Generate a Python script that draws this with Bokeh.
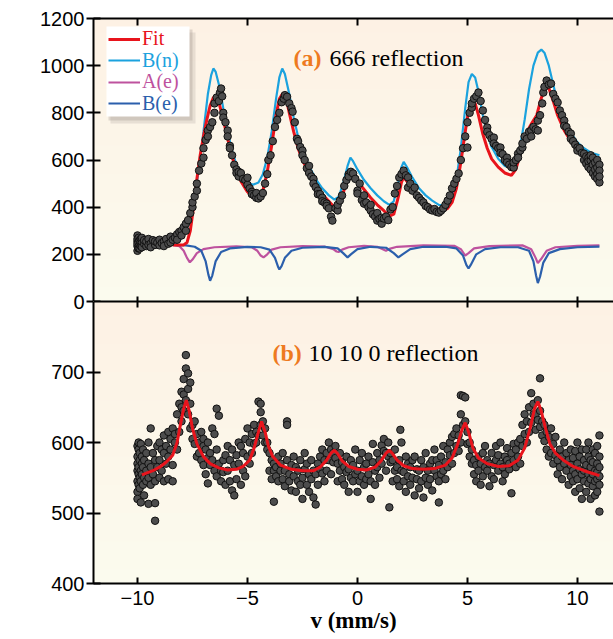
import numpy as np
from bokeh.plotting import figure
from bokeh.layouts import column
from bokeh.models import (Range1d, LinearAxis, FixedTicker, BoxAnnotation, Label,
                          Legend, LegendItem)
from bokeh.embed import file_html
from bokeh.resources import INLINE

# ---------------- data ----------------
X_TICKS = [-10, -5, 0, 5, 10]
X_TICK_LABELS = ["\u221210", "\u22125", "0", "5", "10"]
YA_TICKS = [0, 200, 400, 600, 800, 1000, 1200]
YB_TICKS = [400, 500, 600, 700]
SERIES = ["Fit", "B(n)", "A(e)", "B(e)"]

# panel (a): measured counts, rows of (velocity, [counts ...])
A_ROWS = [
    (-10.0, [280, 255, 235, 215, 265, 245]), (-9.95, [270, 225, 250]), (-9.9, [240, 260, 225]),
    (-9.85, [265, 235]), (-9.8, [250, 230, 270]), (-9.7, [245, 260]), (-9.6, [235, 255]),
    (-9.5, [265, 240]), (-9.4, [245, 230]), (-9.3, [260]), (-9.2, [240, 255]), (-9.1, [250]),
    (-9.0, [238, 262]), (-8.9, [248]), (-8.8, [255, 235]), (-8.7, [265]), (-8.6, [245]),
    (-8.5, [275, 250]), (-8.4, [262]), (-8.3, [270]), (-8.2, [285, 262]), (-8.1, [295]),
    (-8.0, [300, 280]), (-7.9, [315]), (-7.8, [330, 300]), (-7.7, [345]), (-7.6, [375]),
    (-7.5, [400, 420]), (-7.4, [445]), (-7.3, [470, 500]), (-7.2, [555]), (-7.1, [585]),
    (-7.0, [610, 650]), (-6.9, [685]), (-6.8, [725, 700]), (-6.7, [740]), (-6.6, [760]),
    (-6.5, [800, 840]), (-6.4, [865]), (-6.3, [850]), (-6.25, [885]), (-6.2, [903]),
    (-6.15, [870]), (-6.1, [800, 780]), (-6.0, [760]), (-5.9, [725, 700]), (-5.8, [660, 650]),
    (-5.7, [620]), (-5.6, [580]), (-5.5, [560, 545]), (-5.4, [530, 550]), (-5.3, [545]),
    (-5.2, [520]), (-5.1, [515]), (-5.0, [495, 525]), (-4.9, [480]), (-4.8, [465, 455]),
    (-4.7, [450]), (-4.6, [440, 460]), (-4.5, [437]), (-4.4, [445]), (-4.3, [460]),
    (-4.2, [500]), (-4.1, [540]), (-4.05, [600]), (-3.95, [620]), (-3.85, [680]),
    (-3.75, [740]), (-3.65, [770]), (-3.55, [800]), (-3.45, [845]), (-3.35, [860]),
    (-3.3, [875]), (-3.2, [868]), (-3.1, [840]), (-3.0, [820]), (-2.95, [805]),
    (-2.85, [760]), (-2.75, [690]), (-2.7, [680]), (-2.6, [655]), (-2.5, [640, 620]),
    (-2.4, [600]), (-2.3, [565]), (-2.2, [575, 545]), (-2.1, [530]), (-2.0, [520, 500]),
    (-1.9, [485]), (-1.8, [470, 455]), (-1.7, [455]), (-1.6, [440, 425]), (-1.5, [420]),
    (-1.4, [415, 405]), (-1.3, [395]), (-1.2, [360]), (-1.14, [343]), (-1.0, [395]),
    (-0.9, [386, 410]), (-0.8, [428]), (-0.7, [450]), (-0.6, [490]), (-0.5, [515]),
    (-0.4, [540, 530]), (-0.3, [550]), (-0.2, [543]), (-0.1, [520]), (0.0, [470, 458]),
    (0.1, [500]), (0.2, [430]), (0.3, [415, 450]), (0.4, [420]), (0.5, [400]),
    (0.6, [386, 410]), (0.7, [370]), (0.8, [360]), (0.9, [343, 375]), (1.0, [350]),
    (1.1, [330, 355]), (1.2, [352]), (1.3, [360]), (1.4, [345]), (1.5, [390]), (1.6, [400]),
    (1.7, [458]), (1.8, [490]), (1.9, [526]), (2.0, [540]), (2.1, [555]), (2.2, [535]),
    (2.3, [483, 526]), (2.4, [500]), (2.5, [470]), (2.6, [483]), (2.7, [450]), (2.8, [440]),
    (2.9, [428]), (3.0, [420]), (3.1, [405]), (3.2, [400]), (3.3, [390]), (3.4, [386]),
    (3.5, [392]), (3.6, [380]), (3.7, [377]), (3.8, [385]), (3.9, [395]), (4.0, [410]),
    (4.1, [428]), (4.2, [450]), (4.3, [480]), (4.4, [500]), (4.5, [520]), (4.6, [543]),
    (4.7, [600]), (4.8, [650]), (4.9, [700]), (5.0, [653, 760]), (5.1, [800]),
    (5.2, [822, 840]), (5.3, [860]), (5.4, [870]), (5.5, [886]), (5.6, [850]), (5.7, [810]),
    (5.8, [770]), (5.9, [738, 720]), (6.0, [705]), (6.1, [690]), (6.2, [695, 670]),
    (6.3, [660]), (6.4, [650]), (6.5, [653, 630]), (6.6, [625]), (6.7, [600]),
    (6.8, [610, 590]), (6.9, [580]), (7.0, [570]), (7.1, [568, 590]), (7.2, [600]),
    (7.3, [627, 610]), (7.4, [640]), (7.5, [653, 670]), (7.6, [700]), (7.7, [690]),
    (7.8, [720]), (7.9, [725, 700]), (8.0, [740]), (8.1, [730]), (8.2, [725, 767]),
    (8.3, [790]), (8.4, [840]), (8.45, [886]), (8.5, [910]), (8.6, [937]), (8.7, [920]),
    (8.8, [924]), (8.9, [880]), (9.0, [860]), (9.1, [844]), (9.2, [810]), (9.3, [790]),
    (9.4, [767, 745]), (9.5, [740]), (9.6, [720]), (9.7, [712, 690]), (9.8, [680]),
    (9.9, [665]), (10.0, [653, 640]), (10.1, [650]), (10.2, [630]), (10.3, [627, 600]),
    (10.4, [615, 585]), (10.5, [610, 570, 595]), (10.6, [598, 560, 620]),
    (10.7, [580, 610, 545]), (10.8, [590, 560, 530]), (10.9, [568, 600, 540, 520]),
    (11.0, [505, 580, 555, 530]),
]

# panel (a) curves: (velocity, counts)
FIT_A = [(-8.4, 240), (-7.9, 240), (-7.75, 250), (-7.6, 300), (-7.45, 400),
         (-7.3, 520), (-7.15, 620), (-7.0, 700), (-6.85, 770), (-6.7, 830), (-6.55, 865), (-6.45, 870),
         (-6.3, 845), (-6.1, 770), (-5.9, 690), (-5.7, 615), (-5.5, 555), (-5.3, 510), (-5.0, 465),
         (-4.8, 445), (-4.6, 435), (-4.45, 440), (-4.3, 470), (-4.1, 550), (-3.9, 660), (-3.7, 790),
         (-3.55, 860), (-3.4, 882), (-3.25, 865), (-3.1, 800), (-2.9, 720), (-2.7, 650), (-2.5, 600),
         (-2.2, 545), (-1.9, 495), (-1.6, 455), (-1.3, 425), (-1.05, 400), (-0.85, 410), (-0.65, 460),
         (-0.45, 520), (-0.32, 545), (-0.2, 535), (0.0, 510), (0.3, 475), (0.6, 440), (0.9, 410),
         (1.2, 385), (1.45, 362), (1.65, 370), (1.85, 440), (2.0, 505), (2.1, 528), (2.25, 510),
         (2.5, 475), (2.8, 440), (3.1, 415), (3.4, 400), (3.7, 388), (3.9, 386), (4.1, 395),
         (4.3, 420), (4.5, 480), (4.7, 590), (4.9, 720), (5.05, 810), (5.2, 848), (5.35, 840),
         (5.5, 790), (5.7, 710), (5.9, 650), (6.1, 605), (6.4, 570), (6.7, 545), (7.0, 535),
         (7.2, 560), (7.45, 640), (7.7, 720), (7.95, 760), (8.15, 790), (8.35, 860), (8.55, 915),
         (8.7, 905), (8.9, 850), (9.1, 790), (9.4, 725), (9.7, 680), (10.0, 650), (10.3, 630),
         (10.6, 615), (11.0, 600)]
BN_A = [(-8.4, 242), (-8.1, 255), (-7.8, 300), (-7.6, 350), (-7.4, 440),
        (-7.2, 570), (-7.0, 720), (-6.8, 880), (-6.65, 960), (-6.55, 988), (-6.45, 975), (-6.3, 920),
        (-6.1, 820), (-5.9, 720), (-5.7, 640), (-5.5, 580), (-5.3, 540), (-5.0, 505), (-4.75, 495),
        (-4.5, 505), (-4.3, 540), (-4.1, 610), (-3.9, 720), (-3.7, 860), (-3.55, 950), (-3.42, 988),
        (-3.3, 965), (-3.1, 880), (-2.9, 780), (-2.7, 700), (-2.5, 640), (-2.2, 575), (-1.9, 520),
        (-1.6, 480), (-1.3, 450), (-1.05, 432), (-0.85, 445), (-0.65, 500), (-0.45, 575),
        (-0.32, 610), (-0.2, 595), (0.0, 560), (0.3, 515), (0.6, 480), (0.9, 450), (1.2, 425),
        (1.45, 410), (1.65, 425), (1.85, 500), (2.0, 570), (2.1, 592), (2.25, 570), (2.5, 525),
        (2.8, 480), (3.1, 450), (3.4, 428), (3.7, 410), (3.9, 408), (4.1, 420), (4.3, 450),
        (4.5, 520), (4.7, 650), (4.9, 820), (5.05, 930), (5.2, 965), (5.35, 950), (5.5, 890),
        (5.7, 790), (5.9, 710), (6.1, 655), (6.4, 605), (6.7, 575), (6.95, 567), (7.2, 590),
        (7.4, 660), (7.6, 770), (7.8, 900), (8.0, 1000), (8.2, 1055), (8.36, 1068), (8.5, 1055),
        (8.7, 1000), (8.9, 920), (9.1, 845), (9.4, 770), (9.7, 715), (10.0, 675), (10.3, 650),
        (10.6, 632), (11.0, 620)]
AE_A = [(-8.4, 240), (-8.1, 235), (-7.9, 215), (-7.75, 185), (-7.62, 166), (-7.5, 178),
        (-7.3, 205), (-7.0, 222), (-6.5, 230), (-5.5, 234), (-4.8, 230), (-4.55, 215), (-4.4, 195),
        (-4.27, 187), (-4.1, 200), (-3.9, 220), (-3.5, 230), (-2.5, 235), (-1.5, 233), (-1.1, 222),
        (-0.95, 212), (-0.86, 210), (-0.7, 220), (-0.4, 230), (0.3, 236), (0.9, 232), (1.15, 222),
        (1.3, 215), (1.45, 223), (1.8, 232), (3.0, 238), (4.4, 236), (4.7, 222), (4.9, 195),
        (5.05, 205), (5.3, 225), (6.0, 235), (7.5, 238), (7.9, 222), (8.1, 185), (8.2, 163),
        (8.35, 180), (8.6, 215), (9.0, 230), (10.0, 236), (11.0, 238)]
BE_A = [(-8.4, 240), (-7.8, 238), (-7.4, 232), (-7.1, 215), (-6.9, 170), (-6.78, 115),
        (-6.7, 88), (-6.6, 110), (-6.45, 170), (-6.2, 210), (-5.8, 225), (-5.0, 232), (-4.4, 230),
        (-4.0, 220), (-3.75, 185), (-3.6, 145), (-3.55, 136), (-3.45, 150), (-3.3, 185), (-3.0, 215),
        (-2.5, 228), (-1.5, 232), (-0.9, 225), (-0.65, 205), (-0.45, 187), (-0.3, 200), (0.0, 222),
        (0.6, 232), (1.3, 228), (1.65, 205), (1.86, 187), (2.05, 200), (2.4, 222), (3.0, 232),
        (4.0, 232), (4.5, 225), (4.8, 195), (4.95, 155), (5.05, 140), (5.15, 155), (5.4, 200),
        (5.8, 222), (6.5, 230), (7.3, 230), (7.8, 215), (8.0, 170), (8.12, 110), (8.2, 78),
        (8.3, 105), (8.45, 165), (8.7, 205), (9.2, 222), (10.0, 230), (11.0, 233)]

# panel (b): measured counts, rows of (velocity, [counts ...])
B_ROWS = [
    (-10.0, [595, 580, 560, 545, 530, 570, 520]), (-9.95, [590, 565, 540, 555, 600]),
    (-9.9, [575, 550, 585, 535]), (-9.85, [560, 545, 598, 515]), (-9.8, [570, 555, 580]),
    (-9.75, [540, 565, 590]), (-9.7, [575, 550, 525]), (-9.6, [560, 585, 545]),
    (-9.5, [513, 570, 550, 600]), (-9.4, [620, 565, 540]), (-9.3, [555, 585]),
    (-9.2, [489, 545, 575, 514]), (-9.1, [565, 595]), (-9.0, [575, 550, 600]), (-8.9, [590, 560]),
    (-8.8, [610, 585, 545]), (-8.7, [595, 570]), (-8.6, [615, 580, 548]), (-8.5, [605, 590]),
    (-8.4, [620, 568, 545]), (-8.3, [600, 612]), (-8.2, [640, 590]), (-8.1, [655, 615]),
    (-8.0, [672, 630, 650]), (-7.9, [690, 668, 645]), (-7.8, [724, 705, 660]),
    (-7.7, [698, 676, 640]), (-7.6, [685, 655, 620]), (-7.5, [625, 605]), (-7.4, [630, 598]),
    (-7.3, [612, 580]), (-7.2, [600, 585]), (-7.1, [615, 575]), (-7.0, [605, 595, 568]),
    (-6.9, [590, 555]), (-6.8, [542, 600, 578]), (-6.7, [585, 568]), (-6.6, [620, 575]),
    (-6.5, [612, 560]), (-6.4, [648, 590, 552]), (-6.3, [638, 570]), (-6.2, [560, 545]),
    (-6.1, [575, 558]), (-6.0, [540, 582]), (-5.9, [560, 595]), (-5.8, [545, 575]),
    (-5.7, [590, 532]), (-5.6, [525, 568]), (-5.5, [582, 548]), (-5.4, [600, 570]),
    (-5.3, [595, 540]), (-5.2, [585, 560]), (-5.1, [605, 552]), (-5.0, [580, 620]),
    (-4.9, [600, 570]), (-4.8, [612, 585]), (-4.7, [625, 598]), (-4.6, [600, 615]),
    (-4.5, [610, 658]), (-4.4, [643, 655, 625]), (-4.3, [630, 610]), (-4.2, [620, 600]),
    (-4.1, [600, 590]), (-4.0, [560, 585]), (-3.9, [575, 548]), (-3.8, [516, 570, 560]),
    (-3.7, [565, 552]), (-3.6, [580, 545]), (-3.5, [560, 570]), (-3.4, [548, 585]),
    (-3.3, [560, 538]), (-3.2, [630, 625, 575]), (-3.1, [555, 545]), (-3.0, [568, 532]),
    (-2.9, [552, 580]), (-2.8, [530, 565]), (-2.7, [560, 545]), (-2.6, [575, 540]),
    (-2.5, [550, 520]), (-2.4, [562, 585]), (-2.3, [540, 570]), (-2.2, [530, 555]),
    (-2.1, [548, 575]), (-2.0, [560, 522]), (-1.9, [512, 555]), (-1.8, [570, 540]),
    (-1.7, [580, 562]), (-1.6, [556, 590]), (-1.5, [575, 545]), (-1.4, [585, 560]),
    (-1.3, [575, 600]), (-1.2, [590, 555]), (-1.1, [585, 572]), (-1.0, [578, 595]),
    (-0.9, [570, 545]), (-0.8, [560, 585]), (-0.7, [548, 572]), (-0.6, [565, 540]),
    (-0.5, [558, 580]), (-0.4, [530, 562]), (-0.3, [575, 550]), (-0.2, [545, 568]),
    (-0.1, [590, 555]), (0.0, [560, 530]), (0.1, [575, 545]), (0.2, [552, 585]),
    (0.3, [540, 565]), (0.4, [570, 548]), (0.5, [555, 580]), (0.6, [545, 520]),
    (0.7, [572, 598]), (0.8, [560, 540]), (0.9, [585, 565]), (1.0, [575, 550]),
    (1.1, [596, 570]), (1.2, [588, 605]), (1.3, [585, 560]), (1.4, [580, 600]), (1.45, [508]),
    (1.5, [585, 572]), (1.6, [575, 545]), (1.7, [560, 590]), (1.8, [548, 565]),
    (1.9, [575, 538]), (1.95, [618]), (2.0, [600, 560]), (2.1, [558, 545]), (2.2, [580, 530]),
    (2.3, [552, 570]), (2.4, [540, 565]), (2.5, [575, 550]), (2.6, [580, 525]),
    (2.7, [548, 562]), (2.8, [560, 535]), (2.9, [575, 545]), (3.0, [565, 522]),
    (3.1, [585, 550]), (3.2, [540, 560]), (3.3, [548, 570]), (3.4, [575, 532]),
    (3.5, [560, 590]), (3.6, [552, 575]), (3.7, [515, 568, 545]), (3.8, [580, 555]),
    (3.9, [595, 560]), (4.0, [572, 548]), (4.1, [590, 565]), (4.2, [582, 600]),
    (4.3, [608, 570]), (4.4, [612, 585]), (4.5, [595, 620]), (4.6, [610, 588]),
    (4.7, [667, 640, 600]), (4.8, [666, 625]), (4.9, [664, 630]), (5.0, [615, 598]),
    (5.1, [600, 580]), (5.2, [590, 570]), (5.3, [575, 555]), (5.4, [568, 545]),
    (5.5, [580, 560]), (5.6, [570, 540]), (5.7, [552, 585]), (5.8, [565, 595]),
    (5.9, [560, 575]), (6.0, [538, 570]), (6.1, [585, 552]), (6.2, [568, 548]),
    (6.3, [575, 595]), (6.4, [560, 582]), (6.5, [600, 570]), (6.6, [545, 565]),
    (6.7, [580, 555]), (6.8, [575, 592]), (6.9, [562, 570]), (7.0, [528, 585]),
    (7.1, [598, 575]), (7.2, [590, 565]), (7.3, [600, 580]), (7.4, [605, 570]),
    (7.5, [625, 595]), (7.6, [612, 640]), (7.7, [630, 600]), (7.8, [650, 615]),
    (7.9, [670, 628]), (8.0, [655, 640]), (8.1, [640, 618]), (8.2, [660, 632]),
    (8.3, [691, 645, 622]), (8.4, [630, 610]), (8.5, [625, 602]), (8.6, [615, 590]),
    (8.7, [608, 580]), (8.8, [585, 620]), (8.9, [598, 570]), (9.0, [582, 608]),
    (9.1, [575, 555]), (9.2, [590, 565]), (9.3, [548, 580]), (9.4, [570, 600]),
    (9.5, [560, 585]), (9.6, [540, 575]), (9.7, [568, 590, 552]), (9.8, [578, 545, 560]),
    (9.9, [555, 588, 530]), (10.0, [570, 548, 600]), (10.1, [562, 580, 535]),
    (10.2, [590, 555, 520]), (10.3, [545, 575, 560]), (10.4, [568, 530, 590]),
    (10.5, [580, 555, 542, 600]), (10.6, [565, 520, 575, 548]), (10.7, [590, 555, 538, 572]),
    (10.8, [560, 585, 525, 545]), (10.9, [570, 548, 595, 530, 558]),
    (11.0, [502, 610, 565, 540, 580, 552]),
]

FIT_B = [(-9.8, 554), (-9.3, 560), (-9.0, 565), (-8.7, 572), (-8.4, 582), (-8.2, 600),
         (-8.05, 625), (-7.9, 648), (-7.78, 660), (-7.65, 645), (-7.5, 620), (-7.3, 598), (-7.0, 580),
         (-6.7, 570), (-6.3, 564), (-5.9, 561), (-5.5, 562), (-5.2, 566), (-4.9, 575), (-4.7, 592),
         (-4.5, 615), (-4.36, 630), (-4.2, 615), (-4.05, 595), (-3.85, 580), (-3.5, 568), (-3.0, 562),
         (-2.5, 560), (-2.0, 560), (-1.7, 565), (-1.4, 575), (-1.2, 585), (-1.05, 589), (-0.9, 584),
         (-0.7, 574), (-0.4, 566), (0.0, 562), (0.4, 561), (0.8, 565), (1.1, 575), (1.3, 585),
         (1.45, 589), (1.6, 584), (1.8, 575), (2.1, 567), (2.5, 563), (3.0, 562), (3.5, 563),
         (4.0, 568), (4.3, 578), (4.55, 597), (4.75, 618), (4.9, 628), (5.05, 615), (5.25, 592),
         (5.5, 578), (5.9, 570), (6.4, 566), (6.9, 567), (7.3, 575), (7.6, 592), (7.85, 620),
         (8.05, 648), (8.2, 658), (8.35, 645), (8.55, 620), (8.75, 598), (9.0, 585), (9.4, 574),
         (9.8, 566), (10.3, 560), (10.7, 556), (11.0, 553)]

# ---------------- styling ----------------
COLORS = {"Fit": "#e8141c", "B(n)": "#1ba2de", "A(e)": "#be529e", "B(e)": "#2b5fac"}
ORANGE = "#ee7a1f"
SERIF = "Liberation Serif"
SANS = "Liberation Sans"
GRAD_TOP = np.array([253, 241, 228])
GRAD_BOT = np.array([251, 251, 238])
X_RANGE = (-12, 11.64)
LEFT = 93


def expand(rows):
    xs, ys = [], []
    for v, cs in rows:
        for c in cs:
            xs.append(v)
            ys.append(c)
    return xs, ys


def unzip(pairs):
    return [p[0] for p in pairs], [p[1] for p in pairs]


def add_gradient(p, y0, y1, n=40):
    edges = np.linspace(y0, y1, n + 1)
    for i in range(n):
        t = (i + 0.5) / n
        c = GRAD_BOT * (1 - t) + GRAD_TOP * t
        col = "#%02x%02x%02x" % tuple(int(round(v)) for v in c)
        p.add_layout(BoxAnnotation(bottom=None if i == 0 else edges[i], top=None,
                                   fill_color=col, fill_alpha=1.0, line_color=None,
                                   level="underlay"))


def blank_x_axis(tick_in):
    return LinearAxis(ticker=FixedTicker(ticks=X_TICKS), axis_line_width=2,
                      major_tick_line_width=2, major_tick_in=tick_in, major_tick_out=0,
                      minor_tick_line_color=None, major_label_overrides={t: "" for t in X_TICKS},
                      major_label_text_font_size="1px", major_label_standoff=0)


def y_axis(ticks):
    return LinearAxis(ticker=FixedTicker(ticks=ticks), axis_line_width=2,
                      major_tick_line_width=2, major_tick_in=7, major_tick_out=7,
                      minor_tick_line_color=None, major_label_standoff=2,
                      major_label_text_font=SANS, major_label_text_font_size="20px",
                      major_label_text_color="black")


def make_fig(height, yr, min_top, min_bottom, **kw):
    p = figure(width=613, height=height, x_range=Range1d(*X_RANGE), y_range=Range1d(*yr),
               output_backend="svg", toolbar_location=None,
               x_axis_location=None, y_axis_location=None,
               min_border_left=LEFT, min_border_right=0,
               min_border_top=min_top, min_border_bottom=min_bottom,
               background_fill_color=None, border_fill_color=None,
               outline_line_color=None, **kw)
    p.grid.visible = False
    return p


def counts_label(p, frame_h):
    p.add_layout(Label(x=27 - LEFT, y=frame_h / 2, x_units="screen", y_units="screen",
                       text="Counts", angle=np.pi / 2, text_align="center",
                       text_baseline="middle", text_font=SERIF, text_font_style="bold",
                       text_font_size="25px", text_color="black"))


# ---------------- panel (a) ----------------
pa = make_fig(313, (0, 1200), 18, 12)
add_gradient(pa, 0, 1200)
pa.add_layout(y_axis(YA_TICKS), "left")
pa.add_layout(blank_x_axis(7), "above")
pa.add_layout(blank_x_axis(5), "below")

renderers = {}
for name, pts, lw in [("B(n)", BN_A, 2.2), ("A(e)", AE_A, 2.2), ("B(e)", BE_A, 2.2), ("Fit", FIT_A, 3)]:
    xs, ys = unzip(pts)
    renderers[name] = pa.line(xs, ys, line_color=COLORS[name], line_width=lw)

ax, ay = expand(A_ROWS)
pa.scatter(ax, ay, size=7.5, fill_color="#4d4d4d", line_color="#111111", line_width=1)

# legend box with shadow
for (l, r, b, t, col, alpha) in [(17, 102, 178, 269, "#8a7f78", 0.18),
                                 (15, 99, 181, 272, "#8a7f78", 0.25),
                                 (13, 96, 185, 275, "white", 1.0)]:
    pa.add_layout(BoxAnnotation(left=l, right=r, bottom=b, top=t, left_units="screen",
                                right_units="screen", bottom_units="screen", top_units="screen",
                                fill_color=col, fill_alpha=alpha, line_color=None))
for i, name in enumerate(SERIES):
    leg = Legend(items=[LegendItem(label=name, renderers=[renderers[name]])],
                 location=(15, 251 - i * 21.5), padding=0, margin=0, spacing=0,
                 glyph_width=32, glyph_height=20, label_height=20, label_standoff=2,
                 label_text_font=SERIF, label_text_font_size="20px",
                 label_text_color=COLORS[name], background_fill_alpha=0,
                 border_line_color=None)
    pa.add_layout(leg)

pa.add_layout(Label(x=200, y=244, x_units="screen", y_units="screen", text="(a)",
                    text_font=SERIF, text_font_style="bold", text_font_size="24px",
                    text_color=ORANGE, text_baseline="alphabetic"))
pa.add_layout(Label(x=236, y=244, x_units="screen", y_units="screen", text="666 reflection",
                    text_font=SERIF, text_font_size="24px", text_color="black",
                    text_baseline="alphabetic"))
counts_label(pa, 283)

# ---------------- panel (b) ----------------
pb = make_fig(338, (400, 800), 0, 56, margin=(-12, 0, 0, 0))
add_gradient(pb, 400, 800)
pb.add_layout(y_axis(YB_TICKS), "left")
pb.add_layout(blank_x_axis(6), "above")
xb_axis = LinearAxis(ticker=FixedTicker(ticks=X_TICKS), axis_line_width=2,
                     major_tick_line_width=2, major_tick_in=6, major_tick_out=0,
                     minor_tick_line_color=None,
                     major_label_overrides=dict(zip(X_TICKS, X_TICK_LABELS)),
                     major_label_standoff=7, major_label_text_font=SANS,
                     major_label_text_font_size="20px", major_label_text_color="black",
                     axis_label="v (mm/s)", axis_label_standoff=0,
                     axis_label_text_font=SERIF, axis_label_text_font_style="bold",
                     axis_label_text_font_size="23px", axis_label_text_color="black")
pb.add_layout(xb_axis, "below")

bx, by = expand(B_ROWS)
pb.scatter(bx, by, size=7.5, fill_color="#4d4d4d", line_color="#111111", line_width=1)
fx, fy = unzip(FIT_B)
pb.line(fx, fy, line_color=COLORS["Fit"], line_width=3)

pb.add_layout(Label(x=179, y=231, x_units="screen", y_units="screen", text="(b)",
                    text_font=SERIF, text_font_style="bold", text_font_size="24px",
                    text_color=ORANGE, text_baseline="alphabetic"))
pb.add_layout(Label(x=215, y=231, x_units="screen", y_units="screen", text="10 10 0 reflection",
                    text_font=SERIF, text_font_size="24px", text_color="black",
                    text_baseline="alphabetic"))
counts_label(pb, 282)

layout = column(pa, pb, spacing=0)
open("out.html", "w").write(file_html(layout, INLINE))
